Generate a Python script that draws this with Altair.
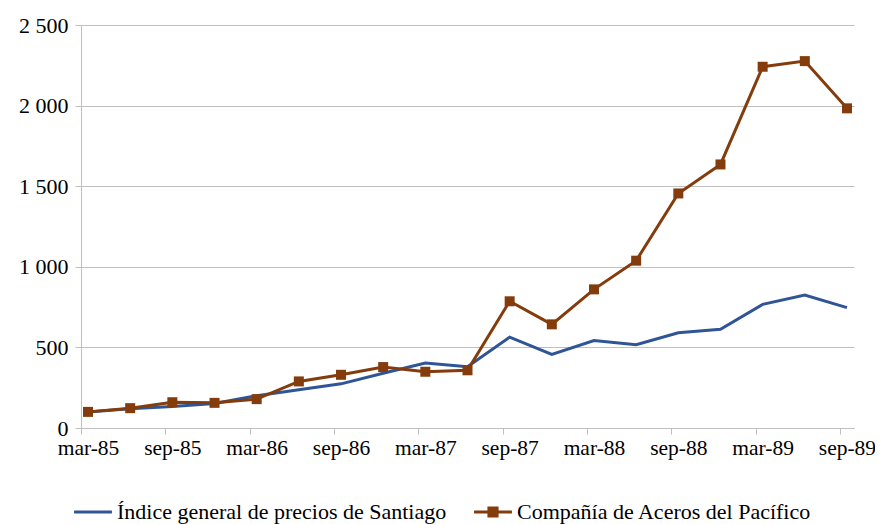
import altair as alt
import pandas as pd

quarters = ["mar-85", "jun-85", "sep-85", "dic-85", "mar-86", "jun-86", "sep-86", "dic-86",
            "mar-87", "jun-87", "sep-87", "dic-87", "mar-88", "jun-88", "sep-88", "dic-88",
            "mar-89", "jun-89", "sep-89"]
indice = [100, 120, 133, 152, 200, 237, 274, 340, 403, 380, 564, 456, 543, 517, 591, 612, 767, 825, 747]
cap = [100, 123, 160, 156, 179, 289, 330, 378, 349, 358, 786, 643, 860, 1038, 1455, 1635, 2241, 2276, 1983]
tick_labels = ["mar-85", "sep-85", "mar-86", "sep-86", "mar-87", "sep-87", "mar-88", "sep-88", "mar-89", "sep-89"]
series_names = ["Índice general de precios de Santiago", "Compañía de Aceros del Pacífico"]
colors = ["#2F5597", "#843C0C"]
y_ticks = [0, 500, 1000, 1500, 2000, 2500]

rows = []
for s, vals in zip(series_names, [indice, cap]):
    for i, (q, v) in enumerate(zip(quarters, vals)):
        rows.append({"quarter": q, "month": i * 3 + 0.5, "value": v, "series": s})
df = pd.DataFrame(rows)

FONT = "Liberation Serif"
label_arr = "[" + ",".join("'%s'" % t for t in tick_labels) + "]"

legend = alt.Legend(orient="bottom", direction="horizontal", title=None,
                    labelFont=FONT, labelFontSize=22, labelColor="#000000",
                    labelLimit=0, symbolSize=560, symbolOpacity=1, offset=41,
                    symbolStrokeWidth=0, labelOffset=12, columnPadding=27)

color = alt.Color("series:N", scale=alt.Scale(domain=series_names, range=colors), legend=legend)

x = alt.X("month:Q", scale=alt.Scale(domain=[0, 55], nice=False, zero=False),
          axis=alt.Axis(values=list(range(0, 55, 6)), labelExpr=label_arr + "[round(datum.value/6)]",
                        labelOffset=7, labelFlush=False, grid=False, tickSize=6,
                        domainColor="#BFBFBF", tickColor="#BFBFBF", labelFont=FONT,
                        labelFontSize=21.5, labelColor="#000000", labelPadding=3, title=None,
                        labelOverlap=False))
y = alt.Y("value:Q", scale=alt.Scale(domain=[0, 2500], nice=False),
          axis=alt.Axis(values=y_ticks, labelExpr="replace(format(datum.value, ','), ',', ' ')",
                        tickSize=6, grid=True, gridColor="#BFBFBF", domainColor="#BFBFBF",
                        tickColor="#BFBFBF", labelFont=FONT, labelFontSize=22,
                        labelColor="#000000", labelPadding=7, title=None))

legend_layer = alt.Chart(df).mark_point(filled=True, opacity=0, size=1).encode(
    x=x, y=y, color=color,
    shape=alt.Shape("series:N", scale=alt.Scale(
        domain=series_names,
        range=["M-1.6,-0.12H1.6V0.12H-1.6Z",
               "M-1.6,-0.12H1.6V0.12H-1.6ZM-0.47,-0.47H0.47V0.47H-0.47Z"]), legend=legend))

lines = alt.Chart(df).mark_line(strokeWidth=3).encode(x=x, y=y, color=color, detail="series:N")
squares = alt.Chart(df).transform_filter(
    alt.datum.series == series_names[1]).mark_square(size=100, opacity=1).encode(x=x, y=y, color=color)

chart = alt.layer(legend_layer, lines, squares).properties(
    width=773, height=403,
    autosize=alt.AutoSizeParams(type="none"),
    padding={"left": 73, "top": 17, "right": 21, "bottom": 96},
).configure_view(stroke=None)

chart.save("out.html", embed_options={"renderer": "svg", "actions": False})
